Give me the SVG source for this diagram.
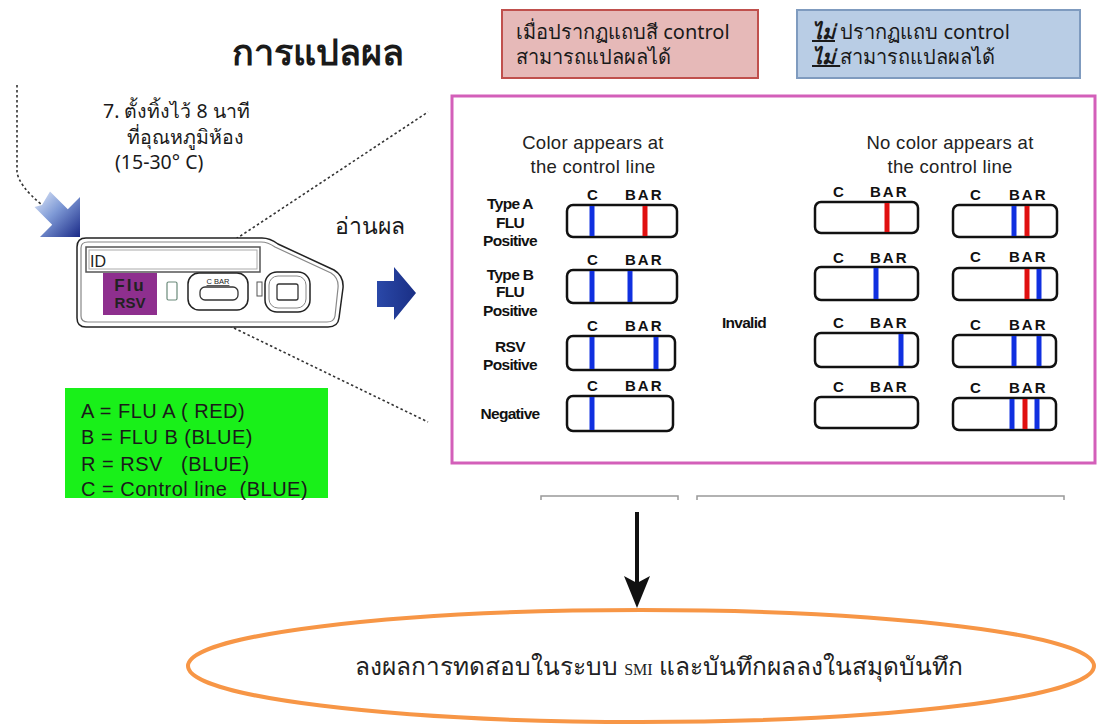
<svg xmlns="http://www.w3.org/2000/svg" width="1101" height="724" viewBox="0 0 1101 724">
  <defs>
    <style>
      .th { font-family: "Noto Sans", "DejaVu Sans", "Liberation Sans", sans-serif; fill: #1a1a1a; }
      .ar { font-family: "Liberation Sans", Arial, sans-serif; fill: #222; }
      .lbl { font-family: "Liberation Sans", Arial, sans-serif; font-weight: bold; font-size: 15.5px; fill: #111; text-anchor: middle; letter-spacing: -0.7px; }
      .cb { font-family: "Liberation Sans", Arial, sans-serif; font-weight: bold; font-size: 15px; fill: #111; }
      .strip { fill: #fff; stroke: #111; stroke-width: 2.5; }
      .blue { stroke: #1030e0; stroke-width: 5; }
      .red { stroke: #e01010; stroke-width: 5; }
      .dots { fill: none; stroke: #333; stroke-width: 1.6; stroke-dasharray: 2.5 2.5; }
      .dev { fill: #fff; stroke: #222; stroke-width: 1.5; }
      .devg { fill: none; stroke: #888; stroke-width: 1.2; }
      .key { font-family: "Liberation Sans", Arial, sans-serif; font-size: 20px; fill: #1a1a1a; letter-spacing: 0.5px; }
      .hd { font-family: "Liberation Sans", Arial, sans-serif; font-size: 18.5px; fill: #222; text-anchor: middle; letter-spacing: 0.3px; }
    </style>
    <linearGradient id="gArrow" x1="0" y1="0" x2="1" y2="1">
      <stop offset="0" stop-color="#e4ecfa"/>
      <stop offset="0.45" stop-color="#7f9ad6"/>
      <stop offset="1" stop-color="#1a2a88"/>
    </linearGradient>
    <linearGradient id="gRight" x1="0" y1="0" x2="1" y2="0">
      <stop offset="0" stop-color="#2a48a8"/>
      <stop offset="1" stop-color="#1a2f85"/>
    </linearGradient>
  </defs>

  <rect width="1101" height="724" fill="#fff"/>

  <!-- heading -->
  <g id="title">
    <text x="232" y="65" class="th" font-size="36" font-weight="bold" fill="#111">การแปลผล</text>
  </g>

  <!-- control line present -->
  <g id="box-valid">
    <rect x="502" y="10" width="256" height="68" fill="#e6b9b8" stroke="#c0504d" stroke-width="2"/>
    <text x="516" y="39" class="th" font-size="20">เมื่อปรากฏแถบสี control</text>
    <text x="516" y="64" class="th" font-size="20">สามารถแปลผลได้</text>
  </g>

  <!-- control line absent -->
  <g id="box-invalid">
    <rect x="797" y="10" width="283" height="68" fill="#b9cde5" stroke="#7f9bbf" stroke-width="2"/>
    <text x="812" y="39" class="th" font-size="20"><tspan font-weight="bold" font-style="italic" text-decoration="underline">ไม่</tspan> ปรากฏแถบ control</text>
    <text x="812" y="64" class="th" font-size="20"><tspan font-weight="bold" font-style="italic" text-decoration="underline">ไม่ </tspan>สามารถแปลผลได้</text>
  </g>

  <!-- incubation step -->
  <g id="step7">
    <text class="th" font-size="19.5"><tspan x="103" y="118">7. ตั้งทิ้งไว้ 8 นาที</tspan><tspan x="127" y="144">ที่อุณหภูมิห้อง</tspan><tspan x="115" y="169">(15-30° C)</tspan></text>
  </g>

  <g id="read-label">
    <text x="335" y="234" class="th" font-size="23">อ่านผล</text>
  </g>

  <!-- connectors -->
  <g id="connectors">
    <path class="dots" d="M17 85 L17 172 Q19 186 42 205"/>
    <path class="dots" d="M186 272 L428 112"/>
    <path class="dots" d="M207 315 L428 422"/>
    <line x1="637" y1="512" x2="637" y2="585" stroke="#111" stroke-width="4"/>
    <path d="M624 576 L637 583 L650 576 L637 608 Z" fill="#111"/>
  </g>

  <!-- arrow into the cassette -->
  <g id="arrow-in">
    <polygon points="80,237 80,197 67.8,209.2 50,191.5 42,205 34.5,207 52.2,224.8 40,237" fill="url(#gArrow)"/>
  </g>

  <!-- arrow towards the results -->
  <g id="arrow-read">
    <polygon points="377,281 394,281 394,267 416,293 394,320 394,307 377,307" fill="url(#gRight)"/>
  </g>

  <!-- test cassette -->
  <g id="cassette">
    <path class="dev" d="M86 238 L262 238 Q270 238 278 244 L334 270 Q344 276 343 288 L339 318 Q338 327 328 327 L86 327 Q77 327 77 318 L77 247 Q77 238 86 238 Z"/>
    <path class="devg" d="M88 242 L261 242 Q268 242 275 247 L331 273 Q339 278 338 288 L335 316 Q334 322 327 322 L88 322 Q81 322 81 316 L81 248 Q81 242 88 242 Z"/>
    <rect x="86" y="247" width="174" height="25" fill="#fff" stroke="#555" stroke-width="1.5"/>
    <rect x="89" y="250" width="168" height="19" fill="none" stroke="#aaa" stroke-width="1"/>
    <text x="90" y="267" class="ar" font-size="16" fill="#222">ID</text>
    <rect x="103" y="273" width="54" height="42" fill="#8e2f8e"/>
    <text x="130" y="291" class="ar" font-size="17" font-weight="bold" fill="#fbe8fb" text-anchor="middle" letter-spacing="2">Flu</text>
    <text x="130" y="308" class="ar" font-size="15" font-weight="bold" fill="#fbe8fb" text-anchor="middle">RSV</text>
    <rect x="167" y="282" width="10" height="18" rx="1.5" fill="#fff" stroke="#6a8a7a" stroke-width="1.2"/>
    <rect x="188" y="273" width="60" height="37" rx="11" fill="#fff" stroke="#222" stroke-width="1.5"/>
    <text x="218" y="284" class="ar" font-size="7.5" text-anchor="middle" fill="#333" text-decoration="underline">C BAR</text>
    <rect x="200" y="287" width="38" height="13" rx="5" fill="#fff" stroke="#333" stroke-width="1.3"/>
    <rect x="257" y="282" width="5" height="14" fill="#fff" stroke="#555" stroke-width="1"/>
    <rect x="265" y="272" width="45" height="40" rx="12" fill="#fff" stroke="#222" stroke-width="1.5"/>
    <rect x="269" y="276" width="37" height="32" rx="9" fill="none" stroke="#888" stroke-width="1"/>
    <rect x="277" y="284" width="21" height="16" rx="2" fill="#fff" stroke="#333" stroke-width="1.3"/>
  </g>

  <!-- colour key -->
  <g id="legend">
    <rect x="65" y="388" width="263" height="110" fill="#19f019"/>
    <text x="81" y="418" class="key">A = FLU A ( RED)</text>
    <text x="81" y="444" class="key">B = FLU B (BLUE)</text>
    <text x="81" y="471" class="key" xml:space="preserve">R = RSV   (BLUE)</text>
    <text x="81" y="496" class="key" xml:space="preserve">C = Control line  (BLUE)</text>
  </g>

  <!-- result chart -->
  <g id="results">
    <rect x="452" y="96" width="643" height="367" fill="#fff" stroke="#d35fb9" stroke-width="3"/>
    <text x="593" y="149" class="hd">Color appears at</text>
    <text x="593" y="173" class="hd">the control line</text>
    <text x="950" y="149" class="hd">No color appears at</text>
    <text x="950" y="173" class="hd">the control line</text>

    <text x="510" y="209" class="lbl">Type A</text>
    <text x="510" y="228" class="lbl">FLU</text>
    <text x="510" y="246" class="lbl">Positive</text>
    <text x="510" y="280" class="lbl">Type B</text>
    <text x="510" y="297" class="lbl">FLU</text>
    <text x="510" y="316" class="lbl">Positive</text>
    <text x="510" y="352" class="lbl">RSV</text>
    <text x="510" y="370" class="lbl">Positive</text>
    <text x="510" y="419" class="lbl">Negative</text>
    <text x="744" y="328" class="lbl" font-size="18" letter-spacing="-0.4">Invalid</text>
  </g>

  <g id="strip-flu-a">
    <text x="587" y="200" class="cb">C</text><text x="625" y="200" class="cb" letter-spacing="2">BAR</text>
    <rect x="567" y="205" width="110" height="32" rx="6" class="strip"/>
    <line x1="592" y1="206" x2="592" y2="236" class="blue"/><line x1="645" y1="206" x2="645" y2="236" class="red"/>
  </g>
  <g id="strip-flu-b">
    <text x="587" y="265" class="cb">C</text><text x="625" y="265" class="cb" letter-spacing="2">BAR</text>
    <rect x="567" y="270" width="110" height="33" rx="6" class="strip"/>
    <line x1="592" y1="271" x2="592" y2="302" class="blue"/><line x1="630" y1="271" x2="630" y2="302" class="blue"/>
  </g>
  <g id="strip-rsv">
    <text x="587" y="331" class="cb">C</text><text x="625" y="331" class="cb" letter-spacing="2">BAR</text>
    <rect x="567" y="336" width="108" height="34" rx="6" class="strip"/>
    <line x1="592" y1="337" x2="592" y2="369" class="blue"/><line x1="656" y1="337" x2="656" y2="369" class="blue"/>
  </g>
  <g id="strip-negative">
    <text x="587" y="391" class="cb">C</text><text x="625" y="391" class="cb" letter-spacing="2">BAR</text>
    <rect x="567" y="396" width="106" height="35" rx="6" class="strip"/>
    <line x1="592" y1="397" x2="592" y2="430" class="blue"/>
  </g>

  <g id="invalid-1">
    <text x="833" y="197" class="cb">C</text><text x="870" y="197" class="cb" letter-spacing="2">BAR</text>
    <rect x="815" y="202" width="103" height="31" rx="6" class="strip"/>
    <line x1="887" y1="203" x2="887" y2="232" class="red"/>
  </g>
  <g id="invalid-2">
    <text x="970" y="200" class="cb">C</text><text x="1009" y="200" class="cb" letter-spacing="2">BAR</text>
    <rect x="953" y="205" width="104" height="32" rx="6" class="strip"/>
    <line x1="1014" y1="206" x2="1014" y2="236" class="blue"/><line x1="1027" y1="206" x2="1027" y2="236" class="red"/>
  </g>
  <g id="invalid-3">
    <text x="833" y="263" class="cb">C</text><text x="870" y="263" class="cb" letter-spacing="2">BAR</text>
    <rect x="815" y="267" width="103" height="33" rx="6" class="strip"/>
    <line x1="876" y1="268" x2="876" y2="299" class="blue"/>
  </g>
  <g id="invalid-4">
    <text x="970" y="262" class="cb">C</text><text x="1009" y="262" class="cb" letter-spacing="2">BAR</text>
    <rect x="953" y="268" width="104" height="32" rx="6" class="strip"/>
    <line x1="1027" y1="269" x2="1027" y2="299" class="red"/><line x1="1039" y1="269" x2="1039" y2="299" class="blue"/>
  </g>
  <g id="invalid-5">
    <text x="833" y="328" class="cb">C</text><text x="870" y="328" class="cb" letter-spacing="2">BAR</text>
    <rect x="815" y="333" width="103" height="34" rx="6" class="strip"/>
    <line x1="901" y1="334" x2="901" y2="366" class="blue"/>
  </g>
  <g id="invalid-6">
    <text x="970" y="330" class="cb">C</text><text x="1009" y="330" class="cb" letter-spacing="2">BAR</text>
    <rect x="953" y="335" width="103" height="32" rx="6" class="strip"/>
    <line x1="1014" y1="336" x2="1014" y2="366" class="blue"/><line x1="1039" y1="336" x2="1039" y2="366" class="blue"/>
  </g>
  <g id="invalid-7">
    <text x="833" y="392" class="cb">C</text><text x="870" y="392" class="cb" letter-spacing="2">BAR</text>
    <rect x="815" y="397" width="103" height="31" rx="6" class="strip"/>
  </g>
  <g id="invalid-8">
    <text x="970" y="393" class="cb">C</text><text x="1009" y="393" class="cb" letter-spacing="2">BAR</text>
    <rect x="953" y="398" width="103" height="32" rx="6" class="strip"/>
    <line x1="1012" y1="399" x2="1012" y2="429" class="blue"/><line x1="1025" y1="399" x2="1025" y2="429" class="red"/><line x1="1037" y1="399" x2="1037" y2="429" class="blue"/>
  </g>

  <!-- table edges below the chart -->
  <g id="table-edges" fill="none" stroke="#999" stroke-width="1.5">
    <path d="M541 500 L541 496 L678 496 L678 500"/>
    <path d="M697 500 L697 496 L1064 496 L1064 500"/>
  </g>

  <!-- final step -->
  <g id="record">
    <ellipse cx="641" cy="666" rx="453" ry="56" fill="none" stroke="#f79646" stroke-width="4"/>
    <text x="355" y="675" font-family="'Liberation Serif', 'DejaVu Serif', serif" font-size="24.5" fill="#222">ลงผลการทดสอบในระบบ <tspan font-size="16">SMI</tspan> และบันทึกผลลงในสมุดบันทึก</text>
  </g>
</svg>
